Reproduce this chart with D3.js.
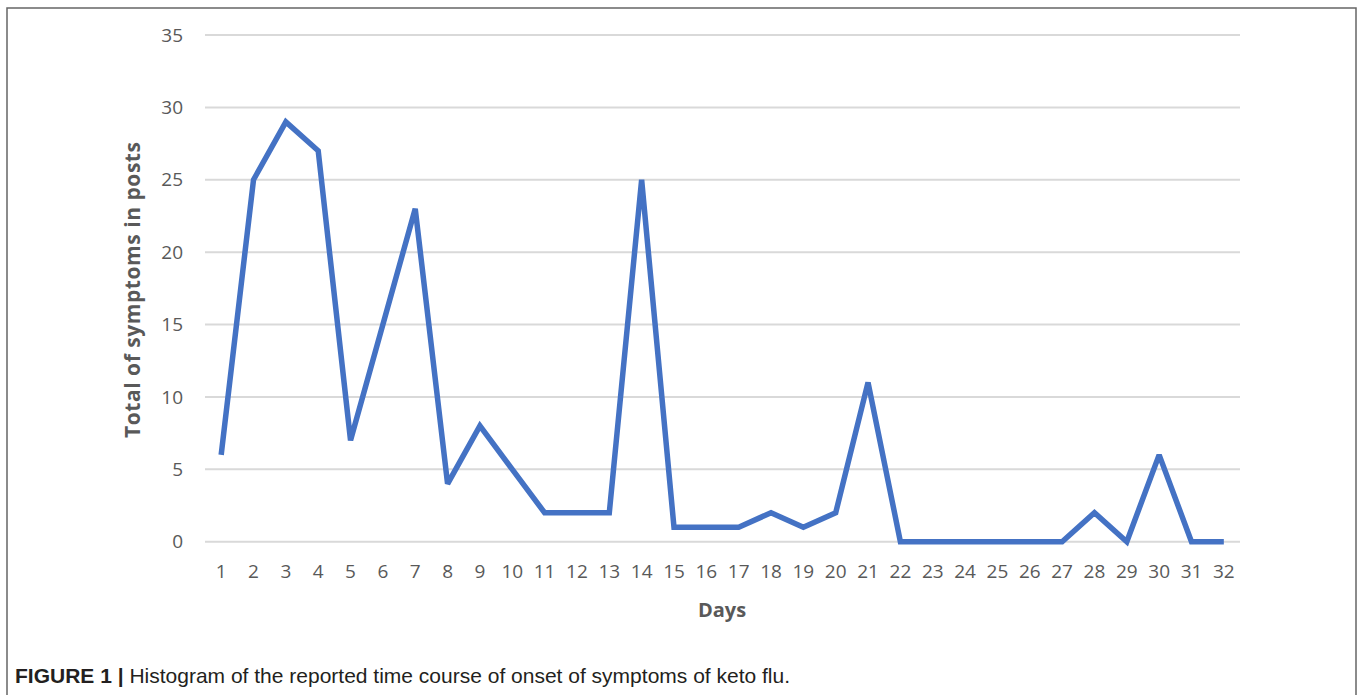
<!DOCTYPE html>
<html><head><meta charset="utf-8">
<script src="https://cdn.jsdelivr.net/npm/d3@7"></script>
<style>body{margin:0;background:#fff}svg{display:block}</style>
</head><body>
<svg id="c" width="1358" height="695"></svg>
<script>
const days = d3.range(1, 33).map(String);
const symptoms = [6,25,29,27,7,15,23,4,8,5,2,2,2,25,1,1,1,2,1,2,11,0,0,0,0,0,0,2,0,6,0,0];
const yTicks = [0,5,10,15,20,25,30,35];
const xTitle = "Days";
const yTitle = "Total of symptoms in posts";
const captionBold = "FIGURE 1 |";
const captionText = " Histogram of the reported time course of onset of symptoms of keto flu.";

const svg = d3.select("#c");
// figure frame
svg.append("path").attr("d","M7,700 L7,8 L1356,8 L1356,700")
  .attr("fill","none").attr("stroke","#666").attr("stroke-width",1.5);

const x = d3.scaleBand().domain(days).range([205,1240]);
const y = d3.scaleLinear().domain([0,35]).range([541.7,35]);

// gridlines
svg.append("g").selectAll("line").data(yTicks).join("line")
  .attr("x1",205).attr("x2",1240)
  .attr("y1",d=>y(d)).attr("y2",d=>y(d))
  .attr("stroke","#d9d9d9").attr("stroke-width",2);

const font = "'Open Sans', 'Noto Sans', sans-serif";
// y axis
const ya = svg.append("g").attr("transform","translate(193,0)")
  .call(d3.axisLeft(y).tickValues(yTicks).tickSize(0).tickPadding(10));
ya.select(".domain").remove();
ya.selectAll("text").attr("font-family",font).attr("font-size",19).attr("fill","#595959");

// x axis
const xa = svg.append("g").attr("transform","translate(0,561)")
  .call(d3.axisBottom(x).tickSize(0).tickPadding(3));
xa.select(".domain").remove();
xa.selectAll("text").attr("font-family",font).attr("font-size",19).attr("fill","#595959");

// line
const line = d3.line().x((d,i)=>x(days[i])+x.bandwidth()/2).y(d=>y(d));
svg.append("path").datum(symptoms).attr("d",line)
  .attr("fill","none").attr("stroke","#4472C4").attr("stroke-width",5.5)
  .attr("stroke-linejoin","miter").attr("stroke-miterlimit",2);

// titles
svg.append("text").attr("x",722).attr("y",617).attr("text-anchor","middle")
  .attr("font-family",font).attr("font-weight","bold").attr("font-size",20).attr("fill","#595959")
  .text(xTitle);
svg.append("text").attr("transform","translate(140,290) rotate(-90)").attr("text-anchor","middle")
  .attr("font-family",font).attr("font-weight","bold").attr("font-size",21).attr("fill","#595959")
  .attr("textLength",296).attr("lengthAdjust","spacing")
  .text(yTitle);

// caption
const cap = svg.append("text").attr("x",15).attr("y",683)
  .attr("font-family","'Liberation Sans Narrow', 'Liberation Sans', Arial, sans-serif").attr("font-size",21).attr("fill","#231f20");
cap.append("tspan").attr("font-weight","bold").text(captionBold);
cap.append("tspan").text(captionText);
</script>
</body></html>
